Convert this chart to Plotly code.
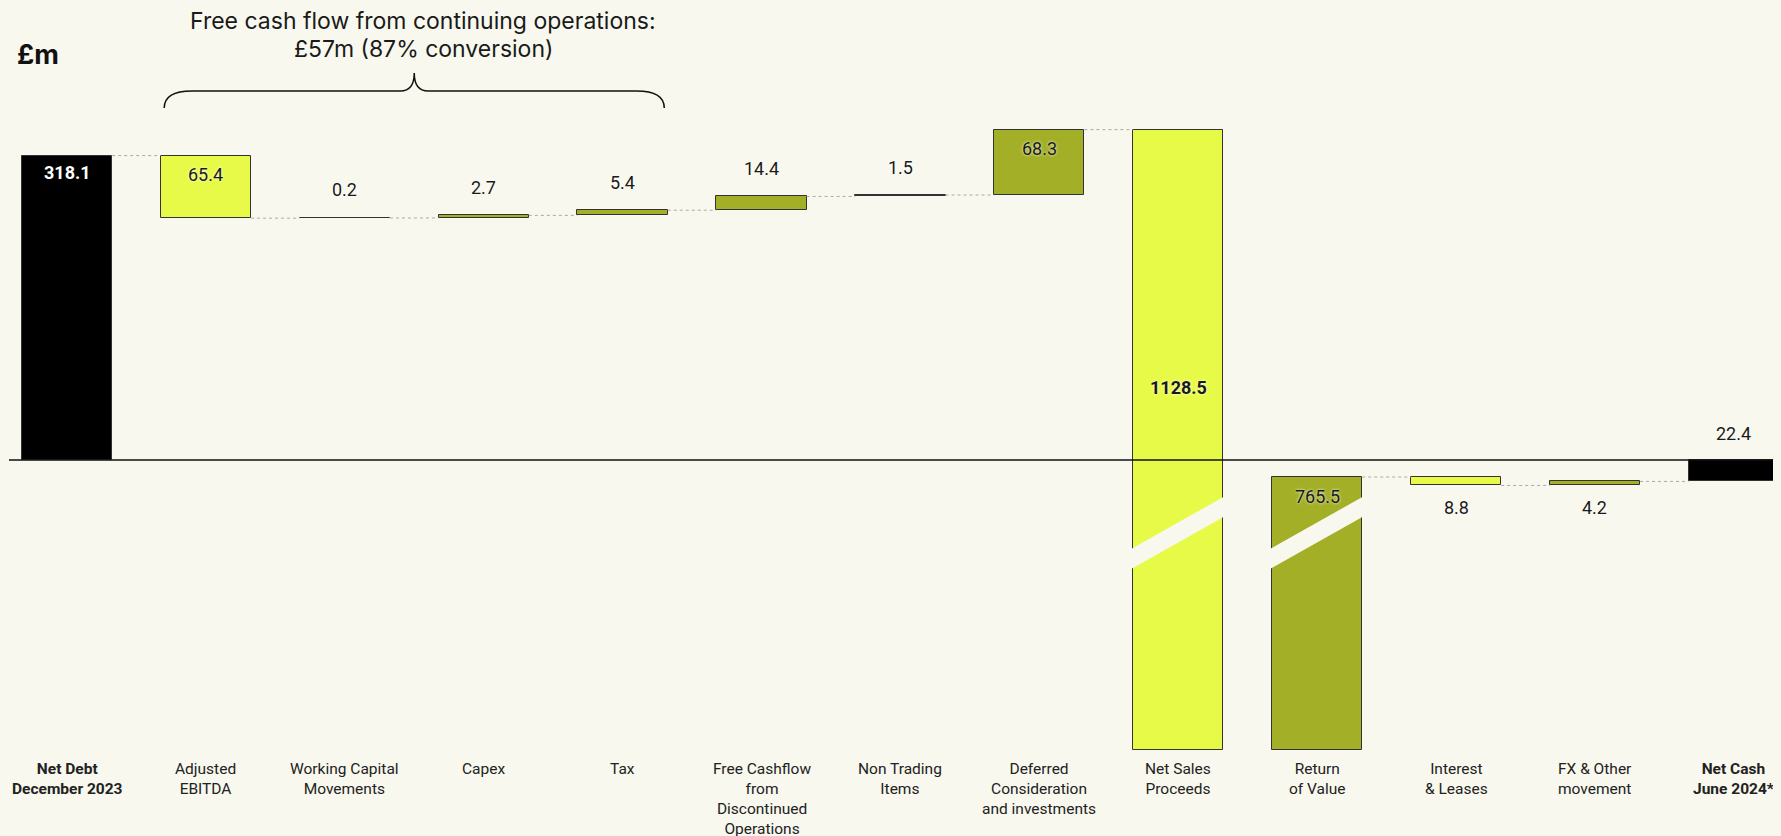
import plotly.graph_objects as go

# ---------------- data ----------------
categories = [
    "<b>Net Debt</b><br><b>December 2023</b>",
    "Adjusted<br>EBITDA",
    "Working Capital<br>Movements",
    "Capex",
    "Tax",
    "Free Cashflow<br>from<br>Discontinued<br>Operations",
    "Non Trading<br>Items",
    "Deferred<br>Consideration<br>and investments",
    "Net Sales<br>Proceeds",
    "Return<br>of Value",
    "Interest<br>& Leases",
    "FX & Other<br>movement",
    "<b>Net Cash</b><br><b>June 2024*</b>",
]
# movement in net debt (+ increases debt, - reduces debt)
opening_net_debt = 318.1
movements = [-65.4, 0.2, 2.7, 5.4, 14.4, 1.5, 68.3, -1128.5, 765.5, -8.8, 4.2]
closing_net_cash = 22.4

title_lines = ["Free cash flow from continuing operations:", "£57m (87% conversion)"]
unit_label = "£m"

# ---------------- styling ----------------
BG = "#F8F8EE"
YELLOW = "#E8FA48"
OLIVE = "#A3AF27"
BLACK = "#000000"
EDGE = "#333333"
OFF = 8                       # page body margin
W, H = 1781 - OFF, 836 - OFF
PLOT_BOTTOM = 760 - OFF
MB = H - PLOT_BOTTOM
ZERO_PX = 460 - OFF           # figure row of zero line
PX_PER_UNIT = 0.957
y_top = ZERO_PX / PX_PER_UNIT
y_bottom = -(PLOT_BOTTOM - ZERO_PX) / PX_PER_UNIT


def px2val(page_py):
    return (ZERO_PX - (page_py - OFF)) / PX_PER_UNIT


floor_val = px2val(750)       # visual cut of the broken bars
STEP = 138.9
x_left = -(67 - OFF) / STEP
x_right = x_left + W / STEP
BW = 0.65

# ---------------- build waterfall ----------------
n = len(categories)
xs = list(range(n))
bases, tops, colors, ends = [], [], [], []
bases.append(0.0); tops.append(opening_net_debt); colors.append(BLACK)
level = opening_net_debt
ends.append(level)
for m in movements:
    start, end = level, level + m
    lo, hi = min(start, end), max(start, end)
    bases.append(max(lo, floor_val)); tops.append(hi)
    colors.append(OLIVE if m > 0 else YELLOW)
    level = end
    ends.append(level)
bases.append(-closing_net_cash); tops.append(0.0); colors.append(BLACK)
ends.append(-closing_net_cash)

fig = go.Figure()
fig.add_trace(go.Bar(
    x=xs, y=[t - b for t, b in zip(tops, bases)], base=bases, width=BW,
    marker=dict(color=colors, line=dict(color=EDGE, width=1)),
    hoverinfo="skip", showlegend=False,
))

# dotted connectors
cx, cy = [], []
for i in range(n - 1):
    lvl = ends[i]
    if lvl < floor_val:
        continue
    cx += [i + BW / 2, i + 1 - BW / 2, None]
    cy += [lvl, lvl, None]
fig.add_trace(go.Scatter(x=cx, y=cy, mode="lines",
                         line=dict(color="#AAAAAA", width=1, dash="dot"),
                         hoverinfo="skip", showlegend=False))

annotations = []
label_font = dict(family="Roboto", size=18, color="#1a1a1a", shadow="0px 0px 3px #ffffff")

all_vals = [opening_net_debt] + movements + [closing_net_cash]
for i, v in enumerate(all_vals):
    txt = f"{abs(v):.1f}"
    font = dict(label_font)
    if i == 0:
        y, ys = tops[i], -17
        txt = f"<b>{txt}</b>"
        font.update(color="#ffffff", shadow="none")
    elif i == n - 1:
        y, ys = tops[i], 27
    elif bases[i] < 0 < tops[i]:
        y, ys = 0, 73
        txt = f"<b>{txt}</b>"
    elif abs(v) >= 30:
        y, ys = tops[i], -19
    elif tops[i] > 0:
        y, ys = tops[i], 28
    else:
        y, ys = bases[i], -22
    annotations.append(dict(x=i, y=y, yshift=ys, text=txt, showarrow=False,
                            xanchor="center", yanchor="middle", font=font))

for i, c in enumerate(categories):
    annotations.append(dict(x=i, y=floor_val, yshift=-8, text=c, showarrow=False,
                            xanchor="center", yanchor="top", align="center",
                            font=dict(family="Roboto", size=15.5, color="#222222")))

for line, py in zip(title_lines, [21, 49]):
    annotations.append(dict(xref="paper", yref="paper", x=(423 - OFF) / W,
                            y=1 - (py - OFF) / PLOT_BOTTOM,
                            text=line, showarrow=False,
                            xanchor="center", yanchor="middle", align="center",
                            font=dict(family="Inter", size=23, color="#1a1a1a")))
annotations.append(dict(xref="paper", yref="paper", x=(15 - OFF) / W,
                        y=1 - (54 - OFF) / PLOT_BOTTOM,
                        text=f"<b>{unit_label}</b>", showarrow=False,
                        xanchor="left", yanchor="middle",
                        font=dict(family="Inter", size=27, color="#111111")))

shapes = []
shapes.append(dict(type="line", xref="paper", yref="y", x0=(9 - OFF) / W, x1=1, y0=0, y1=0,
                   line=dict(color="#111111", width=1.5), layer="above"))

# axis-break bands on the bars that run past the cut
for i in range(1, n - 1):
    if min(ends[i - 1], ends[i]) < floor_val:
        ext = 0.02
        xl, xr = i - BW / 2 - ext, i + BW / 2 + ext
        slope = (px2val(497) - px2val(548)) / BW
        path = (f"M {xl},{px2val(548) - slope * ext} L {xr},{px2val(497) + slope * ext} "
                f"L {xr},{px2val(517) + slope * ext} L {xl},{px2val(568) - slope * ext} Z")
        shapes.append(dict(type="path", path=path, xref="x", yref="y",
                           fillcolor=BG, line=dict(width=0), layer="above"))

# brace over the continuing-operations items
x0, x1, xm = 0.7, 4.3, 2.5
yend, yh, ypk = px2val(108), px2val(91), px2val(73)
r, rp = 0.2, 0.1
brace = (f"M {x0},{yend} Q {x0},{yh} {x0 + r},{yh} L {xm - rp},{yh} "
         f"Q {xm},{yh} {xm},{ypk} Q {xm},{yh} {xm + rp},{yh} "
         f"L {x1 - r},{yh} Q {x1},{yh} {x1},{yend}")
shapes.append(dict(type="path", path=brace, xref="x", yref="y",
                   line=dict(color="#111111", width=1.5)))

fig.update_layout(
    width=W, height=H,
    paper_bgcolor=BG, plot_bgcolor=BG,
    margin=dict(l=0, r=0, t=0, b=MB),
    xaxis=dict(range=[x_left, x_right], visible=False, fixedrange=True),
    yaxis=dict(range=[y_bottom, y_top], visible=False, fixedrange=True),
    annotations=annotations, shapes=shapes,
    bargap=0, showlegend=False,
)
fig.write_html("out.html",
               post_script=f"document.body.style.background='{BG}';"
                           "document.documentElement.style.background='" + BG + "';")
